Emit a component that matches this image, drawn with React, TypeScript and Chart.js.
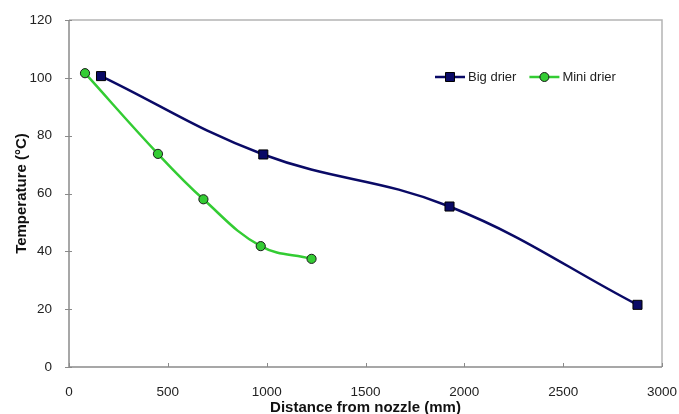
import React, { useEffect, useRef } from "react";
import { Chart, registerables } from "chart.js";

Chart.register(...registerables);

const bigDrierX = [162, 983, 1925, 2876];
const bigDrierY = [100.6, 73.5, 55.5, 21.5];
const miniDrierX = [81, 450, 680, 970, 1227];
const miniDrierY = [101.6, 73.7, 58.0, 41.8, 37.4];
const seriesNames = ["Big drier", "Mini drier"];
const xTicks = [0, 500, 1000, 1500, 2000, 2500, 3000];
const yTicks = [0, 20, 40, 60, 80, 100, 120];

const FONT = "'Liberation Sans', Arial, sans-serif";
const NAVY = "#0a0a66";
const GREEN = "#33cc33";

const framePlugin = {
  id: "frame",
  afterDraw(chart: any) {
    const { ctx, chartArea } = chart;
    const { left, right, top, bottom } = chartArea;
    const xs = chart.scales.x;
    const ys = chart.scales.y;
    ctx.save();
    ctx.strokeStyle = "#b4b4b4";
    ctx.lineWidth = 1.5;
    ctx.beginPath();
    ctx.moveTo(left, top);
    ctx.lineTo(right, top);
    ctx.lineTo(right, bottom);
    ctx.stroke();
    ctx.strokeStyle = "#8a8a8a";
    ctx.beginPath();
    ctx.moveTo(left, top);
    ctx.lineTo(left, bottom);
    ctx.lineTo(right, bottom);
    ctx.stroke();
    ctx.lineWidth = 1;
    ctx.beginPath();
    xTicks.forEach((v) => {
      const px = Math.round(xs.getPixelForValue(v)) + 0.5;
      ctx.moveTo(px, bottom);
      ctx.lineTo(px, bottom - 4);
    });
    yTicks.forEach((v) => {
      const py = Math.round(ys.getPixelForValue(v)) + 0.5;
      ctx.moveTo(left - 4, py);
      ctx.lineTo(left + 3, py);
    });
    ctx.stroke();

    // legend
    const ly = 77;
    let lx = 435;
    chart.data.datasets.forEach((ds: any) => {
      ctx.strokeStyle = ds.borderColor;
      ctx.lineWidth = 2.5;
      ctx.beginPath();
      ctx.moveTo(lx, ly);
      ctx.lineTo(lx + 30, ly);
      ctx.stroke();
      ctx.fillStyle = ds.pointBackgroundColor;
      ctx.strokeStyle = ds.pointBorderColor;
      ctx.lineWidth = 1;
      ctx.beginPath();
      if (ds.pointStyle === "rect") {
        ctx.rect(lx + 15 - 4.5, ly - 4.5, 9, 9);
      } else {
        ctx.arc(lx + 15, ly, 4.5, 0, Math.PI * 2);
      }
      ctx.fill();
      ctx.stroke();
      ctx.fillStyle = "#222";
      ctx.font = `13px ${FONT}`;
      ctx.textBaseline = "middle";
      ctx.textAlign = "left";
      ctx.fillText(ds.label, lx + 33, ly);
      lx += 33 + ctx.measureText(ds.label).width + 13;
    });
    ctx.restore();
  },
};

export default function App() {
  const ref = useRef<HTMLCanvasElement>(null);
  useEffect(() => {
    document.body.style.margin = "0";
    const chart = new Chart(ref.current as HTMLCanvasElement, {
      type: "line",
      data: {
        datasets: [
          {
            label: seriesNames[0],
            data: bigDrierX.map((x, i) => ({ x, y: bigDrierY[i] })),
            borderColor: NAVY,
            borderWidth: 2.5,
            pointStyle: "rect",
            pointRadius: 6.4,
            pointBackgroundColor: NAVY,
            pointBorderColor: "#000",
            pointBorderWidth: 1,
            tension: 0.4,
            fill: false,
          },
          {
            label: seriesNames[1],
            data: miniDrierX.map((x, i) => ({ x, y: miniDrierY[i] })),
            borderColor: GREEN,
            borderWidth: 2.5,
            pointStyle: "circle",
            pointRadius: 4.6,
            pointBackgroundColor: GREEN,
            pointBorderColor: "#1a1a1a",
            pointBorderWidth: 1,
            tension: 0.4,
            fill: false,
          },
        ],
      },
      options: {
        animation: false,
        responsive: false,
        layout: { padding: { top: 20, right: 17, left: 0, bottom: 0 } },
        plugins: { legend: { display: false }, tooltip: { enabled: false } },
        scales: {
          x: {
            type: "linear",
            min: 0,
            max: 3000,
            grid: { display: false },
            border: { display: false },
            afterBuildTicks: (s: any) => {
              s.ticks = xTicks.map((v) => ({ value: v }));
            },
            afterFit: (s: any) => {
              s.height = 47;
              s.paddingLeft = 0;
              s.paddingRight = 0;
            },
            ticks: {
              padding: 9,
              color: "#222",
              font: { family: FONT, size: 13.5 },
              maxRotation: 0,
              callback: (v: any) => String(v),
            },
            title: {
              display: true,
              text: "Distance from nozzle (mm)",
              color: "#111",
              font: { family: FONT, size: 15, weight: "bold", lineHeight: 1 },
              padding: { top: 0, bottom: -1 },
            },
          },
          y: {
            type: "linear",
            min: 0,
            max: 120,
            grid: { display: false },
            border: { display: false },
            afterBuildTicks: (s: any) => {
              s.ticks = yTicks.map((v) => ({ value: v }));
            },
            afterFit: (s: any) => {
              s.width = 69;
              s.paddingTop = 0;
              s.paddingBottom = 0;
            },
            ticks: {
              padding: 9,
              color: "#222",
              font: { family: FONT, size: 13.5 },
              callback: (v: any) => String(v),
            },
            title: {
              display: true,
              text: "Temperature (°C)",
              color: "#111",
              font: { family: FONT, size: 15, weight: "bold", lineHeight: 1 },
              padding: { top: 14, bottom: 0 },
            },
          },
        },
      },
      plugins: [framePlugin],
    } as any);
    return () => chart.destroy();
  }, []);
  return <canvas ref={ref} width={679} height={414} style={{ display: "block" }} />;
}
